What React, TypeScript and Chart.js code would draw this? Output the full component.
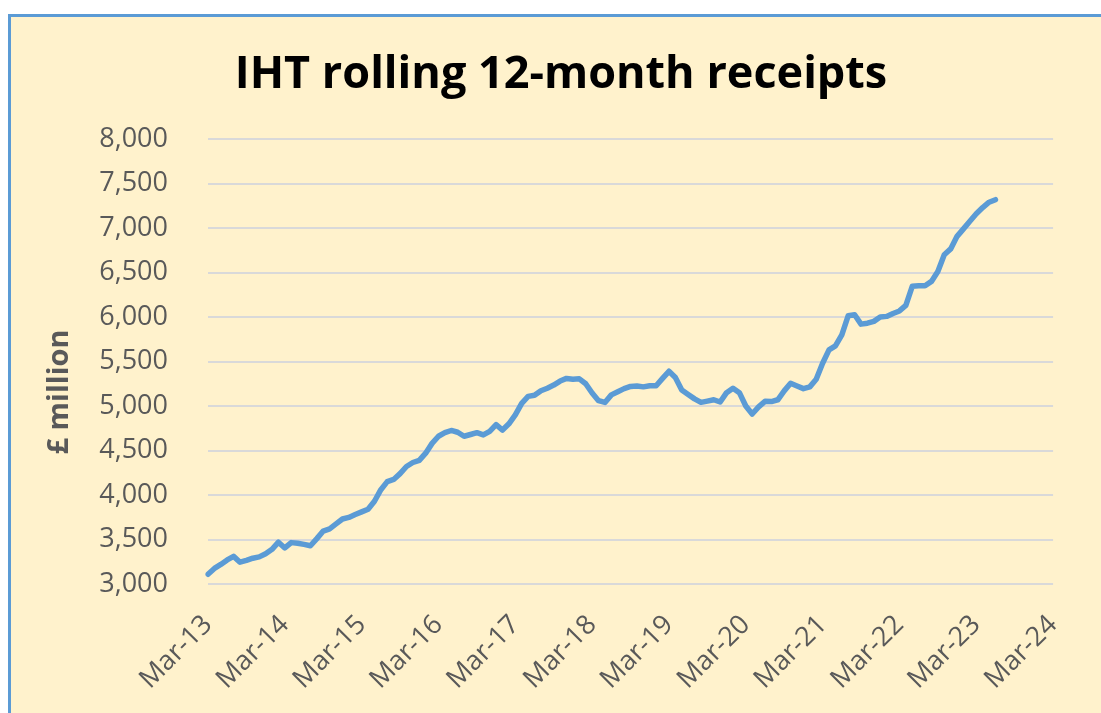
import React, { useEffect, useRef } from 'react';
import { Chart, registerables } from 'chart.js';

Chart.register(...registerables);

const TITLE = 'IHT rolling 12-month receipts';
const Y_TITLE = '£ million';

const MONTH_NAMES = ['Jan', 'Feb', 'Mar', 'Apr', 'May', 'Jun', 'Jul', 'Aug', 'Sep', 'Oct', 'Nov', 'Dec'];
const FIRST_YEAR = 2013;
const FIRST_MONTH = 2; // March
const AXIS_MONTHS = 133; // Mar-13 .. Mar-24

// Rolling 12-month IHT receipts, £ million, monthly from Mar-13 to Jun-23
const receipts = [
  3110, 3175, 3220, 3270, 3310, 3245, 3265, 3290, 3305, 3340, 3390, 3470,
  3405, 3465, 3458, 3445, 3430, 3510, 3595, 3620, 3675, 3730, 3748, 3780,
  3810, 3840, 3930, 4060, 4150, 4175, 4240, 4320, 4365, 4390, 4470, 4580,
  4660, 4700, 4725, 4705, 4660, 4680, 4700, 4675, 4715, 4790, 4730, 4800,
  4900, 5030, 5108, 5120, 5172, 5200, 5235, 5280, 5310, 5300, 5305, 5250,
  5146, 5060, 5040, 5125, 5160, 5195, 5220, 5225, 5215, 5228, 5228, 5310,
  5390, 5320, 5180, 5130, 5080, 5041, 5055, 5070, 5045, 5150, 5200, 5150,
  5000, 4910, 4990, 5052, 5050, 5070, 5170, 5255, 5225, 5195, 5215, 5300,
  5480, 5630, 5675, 5800, 6015, 6026, 5920, 5930, 5951, 6000, 6007, 6040,
  6068, 6130, 6345, 6352, 6352, 6400, 6512, 6700, 6765, 6906, 6990, 7075,
  7160, 7230, 7290, 7318,
];

const Y_MIN = 3000;
const Y_MAX = 8000;
const Y_STEP = 500;

const categories: string[] = [];
for (let i = 0; i < AXIS_MONTHS; i++) {
  const mi = FIRST_MONTH + i;
  const year = FIRST_YEAR + Math.floor(mi / 12);
  categories.push(MONTH_NAMES[mi % 12] + '-' + String(year % 100).padStart(2, '0'));
}

const TICK_FONT = { family: '"Open Sans", sans-serif', size: 27 };
const TEXT_GREY = '#595959';

const textPlugin = {
  id: 'ihtTexts',
  afterDraw(chart: any) {
    const ctx = chart.ctx as CanvasRenderingContext2D;
    ctx.save();
    ctx.fillStyle = '#000000';
    ctx.font = 'bold 45px "Open Sans", sans-serif';
    ctx.textAlign = 'center';
    ctx.textBaseline = 'alphabetic';
    ctx.fillText(TITLE, 550, 71);
    ctx.restore();

    ctx.save();
    ctx.translate(57, 375);
    ctx.rotate(-Math.PI / 2);
    ctx.fillStyle = TEXT_GREY;
    ctx.font = 'bold 29px "Open Sans", sans-serif';
    ctx.textAlign = 'center';
    ctx.textBaseline = 'alphabetic';
    ctx.fillText(Y_TITLE, 0, 0);
    ctx.restore();
  },
};

export default function App() {
  const canvasRef = useRef<HTMLCanvasElement | null>(null);

  useEffect(() => {
    if (!canvasRef.current) return;
    const chart = new Chart(canvasRef.current, {
      type: 'line',
      data: {
        labels: categories,
        datasets: [
          {
            label: 'IHT receipts',
            data: receipts,
            borderColor: '#5B9BD5',
            borderWidth: 5.5,
            pointRadius: 0,
            tension: 0,
            fill: false,
            borderCapStyle: 'round',
            borderJoinStyle: 'round',
          },
        ],
      },
      options: {
        animation: false,
        responsive: true,
        maintainAspectRatio: false,
        layout: { padding: { top: 122, right: 42, bottom: 0, left: 0 } },
        plugins: {
          legend: { display: false },
          tooltip: { enabled: false },
          title: { display: false },
        },
        scales: {
          x: {
            type: 'category',
            offset: false,
            grid: { display: false, drawTicks: false },
            border: { display: false },
            ticks: {
              autoSkip: false,
              minRotation: 45,
              maxRotation: 45,
              padding: 25,
              color: TEXT_GREY,
              font: TICK_FONT,
              callback: (_v: any, i: number) => (i % 12 === 0 ? categories[i] : ''),
            },
            afterFit: (scale: any) => {
              scale.height = 129;
            },
          },
          y: {
            min: Y_MIN,
            max: Y_MAX,
            grid: { color: '#D9D9D9', lineWidth: 2, drawTicks: false },
            border: { display: false },
            ticks: {
              stepSize: Y_STEP,
              padding: 40,
              color: TEXT_GREY,
              font: TICK_FONT,
              callback: (v: any) => Number(v).toLocaleString('en-US'),
            },
            afterFit: (scale: any) => {
              scale.width = 197;
            },
          },
        },
      },
      plugins: [textPlugin],
    });
    return () => chart.destroy();
  }, []);

  return (
    <div
      style={{
        position: 'fixed',
        left: 8,
        top: 14,
        right: 0,
        bottom: 0,
        background: '#FFF2CC',
        borderTop: '3px solid #5B9BD5',
        borderLeft: '3px solid #5B9BD5',
      }}
    >
      <div style={{ position: 'relative', width: '100%', height: '100%' }}>
        <canvas ref={canvasRef} />
      </div>
    </div>
  );
}
